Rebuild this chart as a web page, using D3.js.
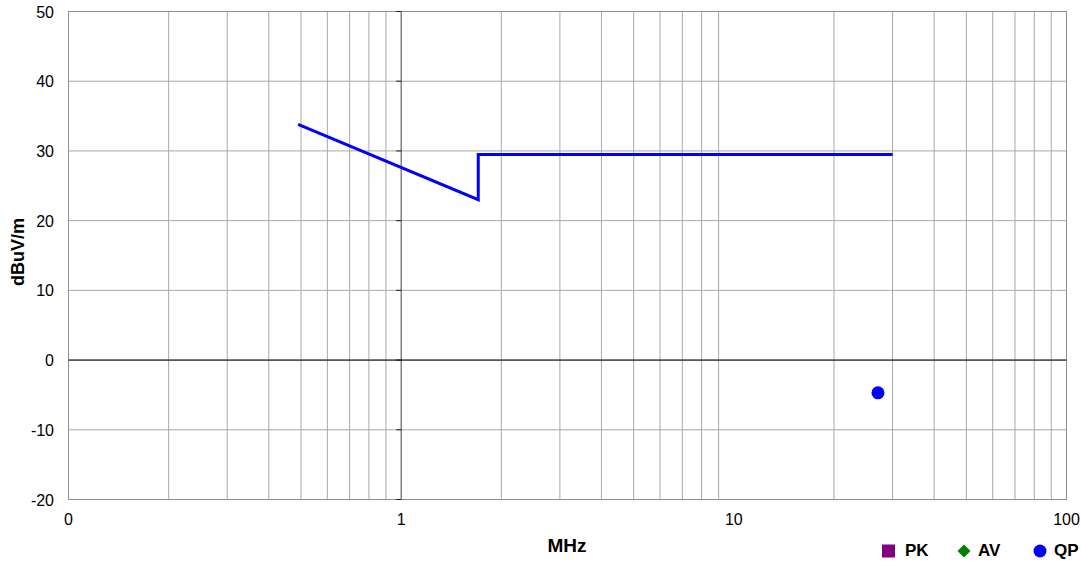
<!DOCTYPE html>
<html>
<head>
<meta charset="utf-8">
<script src="https://cdn.jsdelivr.net/npm/d3@7"></script>
<style>
  body { margin: 0; background: #fff; }
  text { font-family: Arial, "Liberation Sans", sans-serif; }
</style>
</head>
<body>
<div id="viz-container"></div>
<script>
// limit line (MHz, dBuV/m)
var limitFreq = [0.49, 1.705, 1.705, 30];
var limitLevel = [33.8, 23.0, 29.5, 29.5];

// measured QP point
var qpFreq = [27.12];
var qpLevel = [-4.7];

var yTicks = [-20, -10, 0, 10, 20, 30, 40, 50];
var xMajor = [0.1, 1, 10, 100];
var xLabels = ["0", "1", "10", "100"];

var legendNames = ["PK", "AV", "QP"];
var legendColors = ["#800080", "#008000", "#0000ff"];

var svg = d3.select('#viz-container').append('svg')
	.attr('width', 1081)
	.attr('height', 561);

var margin = {top: 11.5, left: 68.5, right: 14.5, bottom: 61.5},
    width = 1081 - margin.left - margin.right,
    height = 561 - margin.top - margin.bottom;

var x = d3.scaleLog().domain([0.1, 100]).range([margin.left, margin.left + width]);
var y = d3.scaleLinear().domain([-20, 50]).range([margin.top + height, margin.top]);

var g = svg.append('g');

// minor vertical grid
var minor = [];
[0.1, 1, 10].forEach(function(d) {
	for (var k = 2; k <= 9; k++) minor.push(d * k);
});

g.append('g').selectAll('line')
	.data(minor)
	.enter().append('line')
	.attr('x1', function(d) {return x(d);})
	.attr('x2', function(d) {return x(d);})
	.attr('y1', y(50))
	.attr('y2', y(-20))
	.attr('stroke', '#a8a8a8')
	.attr('stroke-width', 1);

g.append('g').selectAll('line')
	.data(yTicks)
	.enter().append('line')
	.attr('x1', x(0.1))
	.attr('x2', x(100))
	.attr('y1', function(d) {return y(d);})
	.attr('y2', function(d) {return y(d);})
	.attr('stroke', '#a8a8a8')
	.attr('stroke-width', 1);

// frame
g.append('rect')
	.attr('x', x(0.1))
	.attr('y', y(50))
	.attr('width', x(100) - x(0.1))
	.attr('height', y(-20) - y(50))
	.attr('fill', 'none')
	.attr('stroke', '#909090');

// axes crossing at 1 MHz / 0 dB
g.append('line')
	.attr('x1', x(1)).attr('x2', x(1))
	.attr('y1', y(50)).attr('y2', y(-20))
	.attr('stroke', '#404040');

g.append('g').selectAll('line')
	.data(yTicks)
	.enter().append('line')
	.attr('x1', x(1) - 5).attr('x2', x(1))
	.attr('y1', function(d) {return y(d);})
	.attr('y2', function(d) {return y(d);})
	.attr('stroke', '#202020');

g.append('line')
	.attr('x1', x(0.1)).attr('x2', x(100))
	.attr('y1', y(0)).attr('y2', y(0))
	.attr('stroke', '#000');

// tick labels
g.append('g').selectAll('text')
	.data(yTicks)
	.enter().append('text')
	.attr('x', 54)
	.attr('y', function(d) {return y(d) + 6;})
	.attr('text-anchor', 'end')
	.attr('font-size', 16)
	.text(function(d) {return d;});

g.append('g').selectAll('text')
	.data(xMajor)
	.enter().append('text')
	.attr('x', function(d) {return x(d);})
	.attr('y', 525)
	.attr('text-anchor', 'middle')
	.attr('font-size', 16)
	.text(function(d, i) {return xLabels[i];});

svg.append('text')
	.attr('x', 567).attr('y', 552)
	.attr('text-anchor', 'middle')
	.attr('font-size', 19)
	.attr('font-weight', 'bold')
	.text('MHz');

svg.append('text')
	.attr('transform', 'translate(24,252) rotate(-90)')
	.attr('text-anchor', 'middle')
	.attr('font-size', 18)
	.attr('font-weight', 'bold')
	.text('dBuV/m');

// limit line
var pts = limitFreq.map(function(f, i) {return [f, limitLevel[i]];});
g.append('path')
	.datum(pts)
	.attr('d', d3.line().x(function(d) {return x(d[0]);}).y(function(d) {return y(d[1]);}))
	.attr('fill', 'none')
	.attr('stroke', '#0000ff')
	.attr('stroke-width', 3);

g.append('g').selectAll('circle')
	.data(qpFreq)
	.enter().append('circle')
	.attr('cx', function(d) {return x(d);})
	.attr('cy', function(d, i) {return y(qpLevel[i]);})
	.attr('r', 6.5)
	.attr('fill', '#0000ff');

// legend
var lx = [888.5, 964, 1040];
var tx = [905, 978, 1054];
var shapes = [
	'M-6.5,-6.5H6.5V6.5H-6.5Z',
	'M0,-6.5L6.5,0L0,6.5L-6.5,0Z',
	'M6.5,0A6.5,6.5 0 1,1 -6.5,0A6.5,6.5 0 1,1 6.5,0Z'
];
var leg = svg.append('g').selectAll('g')
	.data(legendNames)
	.enter().append('g');

leg.append('path')
	.attr('transform', function(d, i) {return 'translate(' + lx[i] + ',551)';})
	.attr('d', function(d, i) {return shapes[i];})
	.attr('fill', function(d, i) {return legendColors[i];});

leg.append('text')
	.attr('x', function(d, i) {return tx[i];})
	.attr('y', 556)
	.attr('font-size', 17)
	.attr('font-weight', 'bold')
	.text(function(d) {return d;});
</script>
</body>
</html>
